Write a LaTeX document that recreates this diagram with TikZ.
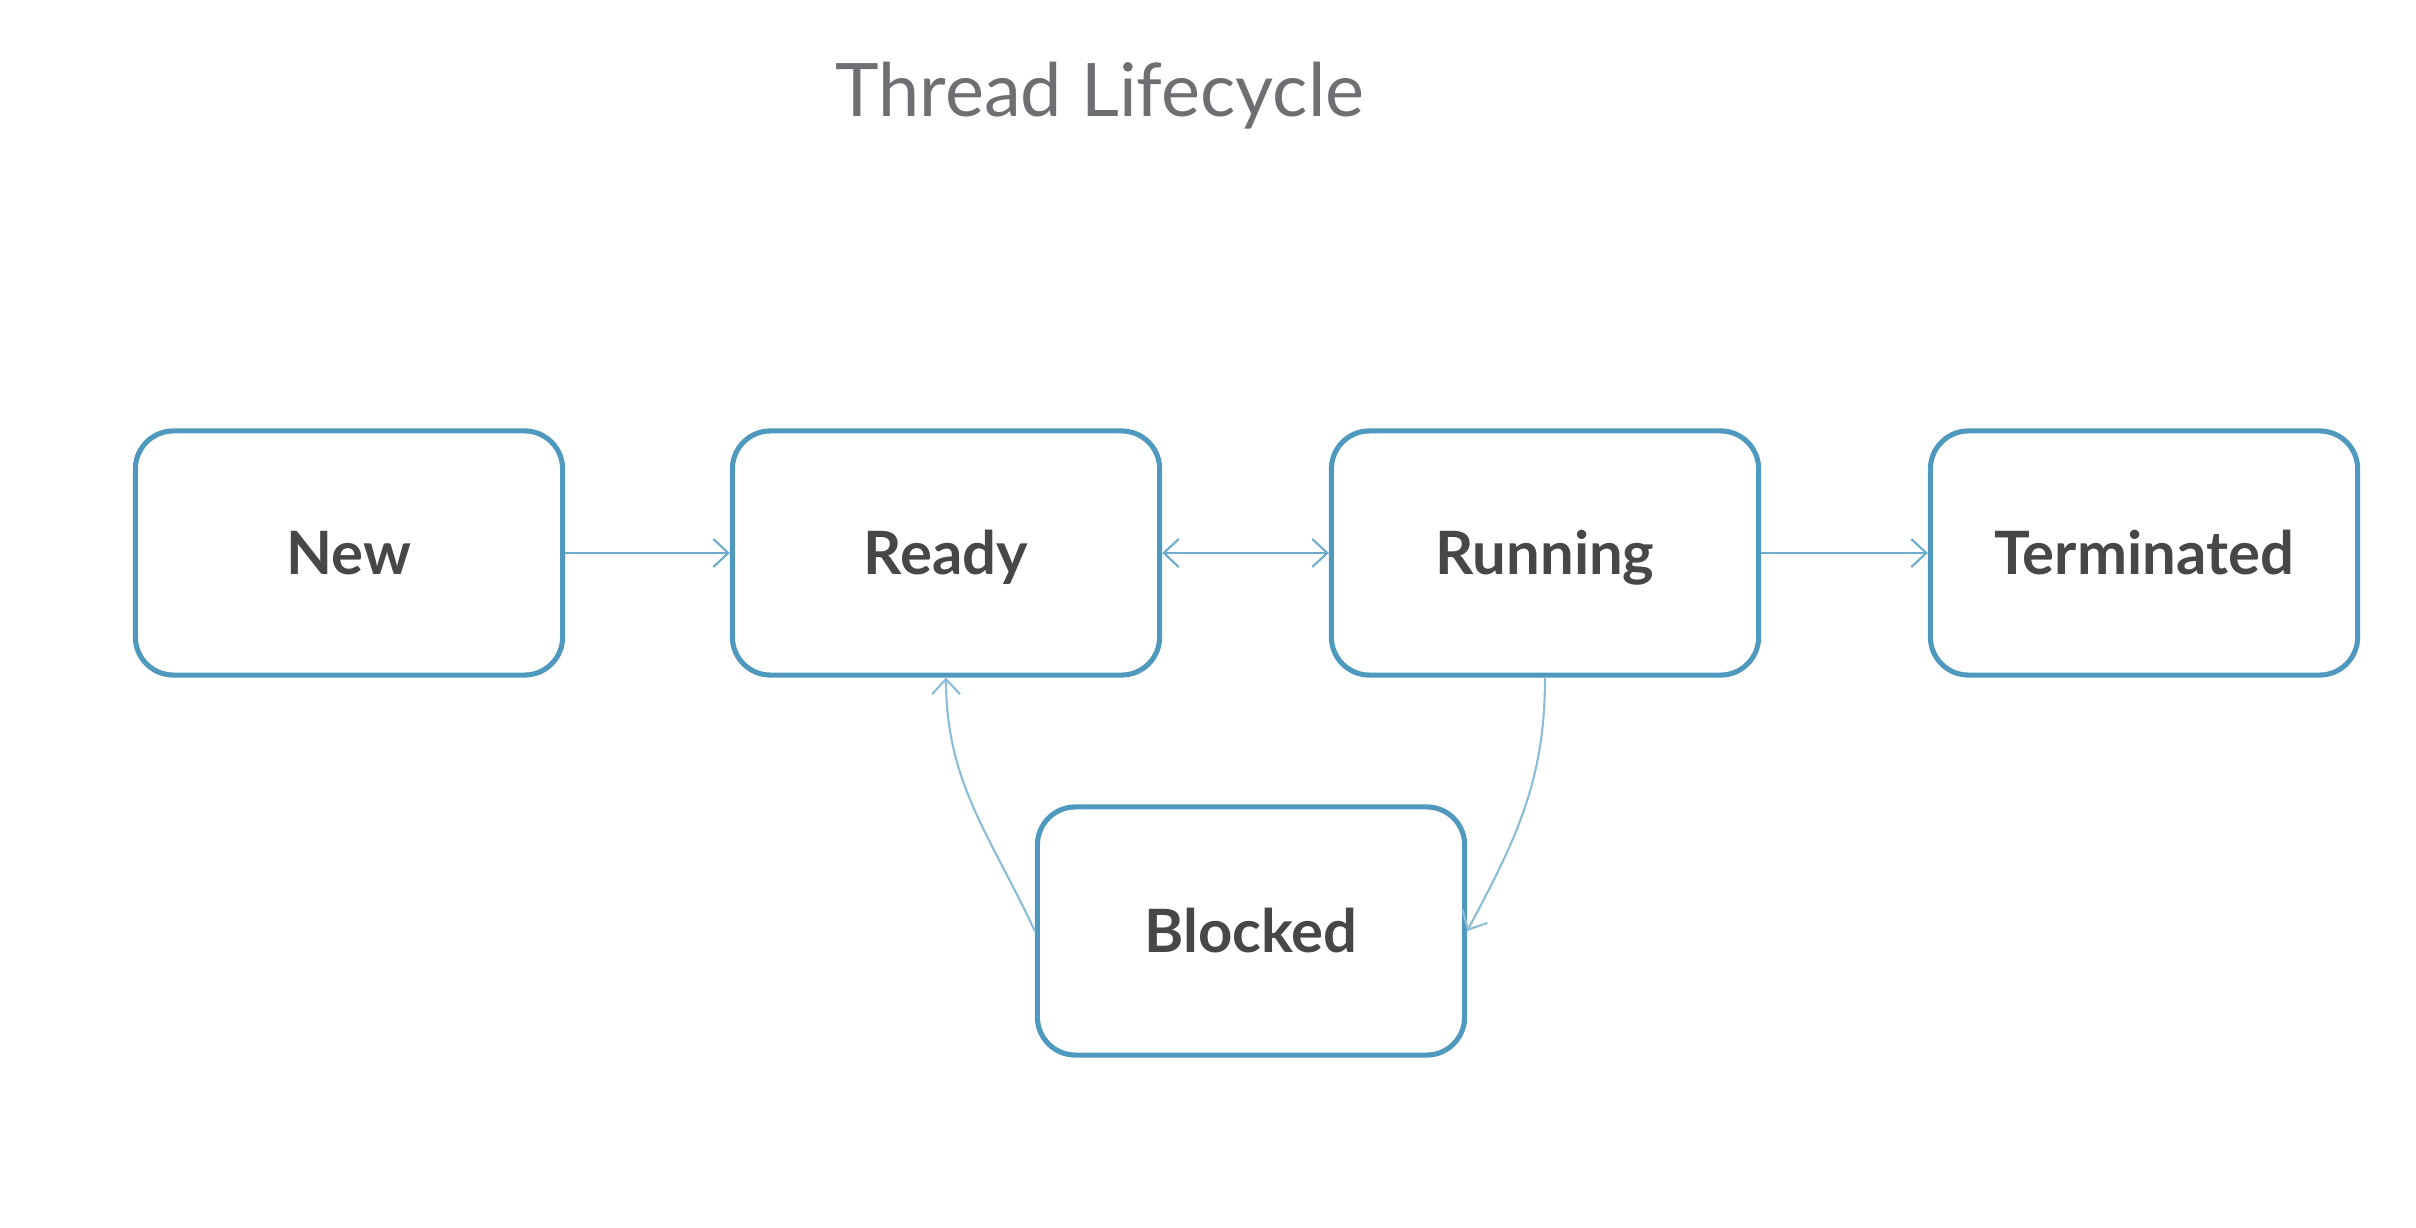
\documentclass[tikz,border=0pt]{standalone}
\usepackage{fontspec}
\setmainfont{Lato}
\usetikzlibrary{arrows.meta}
\definecolor{boxblue}{HTML}{4F98BE}
\definecolor{linkblue}{HTML}{6FABCD}
\definecolor{curveblue}{HTML}{8DBCD6}
\definecolor{labelgray}{HTML}{474749}
\definecolor{titlegray}{HTML}{6E6E73}
\tikzset{
  state/.style={draw=boxblue, line width=1.45pt, rounded corners=0.38cm,
    minimum width=4.27cm, minimum height=2.44cm, fill=white,
    text=labelgray, font=\fontsize{17}{20}\selectfont\bfseries,
    text height=12pt, text depth=0pt},
  tip/.tip={Straight Barb[length=1.5mm,width=2.8mm]},
  link/.style={draw=linkblue, line width=0.6pt, -tip},
  curvelink/.style={link, draw=curveblue},
  titletext/.style={text=titlegray, font=\fontsize{21}{25}\selectfont}
}
\begin{document}
\begin{tikzpicture}[x=0.01cm,y=-0.01cm]
\useasboundingbox (0,0) rectangle (2416,1228);
\node[titletext] (title) at (1100,96) {Thread Lifecycle};
\node[state] (new) at (349,553) {New};
\node[state] (ready) at (946,553) {Ready};
\node[state] (running) at (1545,553) {Running};
\node[state] (term) at (2144,553) {Terminated};
\node[state, minimum height=2.48cm] (blocked) at (1251,931) {Blocked};
\draw[link] (new.east) -- (ready.west);
\draw[link, tip-tip] (ready.east) -- (running.west);
\draw[link] (running.east) -- (term.west);
\draw[curvelink] (running.south) to[out=-90,in=62] (blocked.east);
\draw[curvelink] (blocked.west) to[out=115,in=-90] (ready.south);
\end{tikzpicture}
\end{document}
